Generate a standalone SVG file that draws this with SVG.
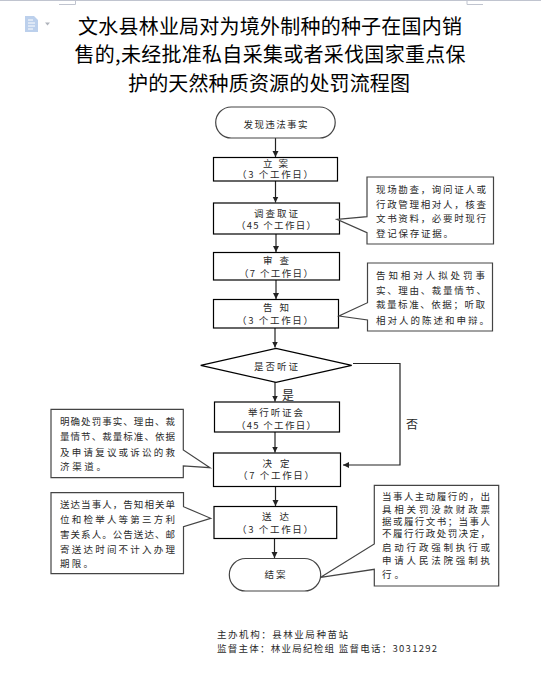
<svg xmlns="http://www.w3.org/2000/svg" width="541" height="673" viewBox="0 0 541 673">
<defs>
<style>
text{font-family:"Noto Sans CJK SC","Liberation Sans",sans-serif;fill:#2a2a2a}
.t{font-size:20px;fill:#000;text-anchor:middle}
.l{font-size:9.500px;text-anchor:middle}
.c{font-size:9.500px}
.s{fill:#fff;stroke:#000;stroke-width:1.2}
.g{fill:#fff;stroke:#444;stroke-width:1.2}
.a{fill:none;stroke:#222;stroke-width:1.2}
</style>
<marker id="ah" markerUnits="userSpaceOnUse" markerWidth="8" markerHeight="8" refX="6" refY="3" orient="auto"><path d="M0 0L6 3L0 6Z" fill="#222"/></marker>
</defs>
<rect width="541" height="673" fill="#fff"/>
<g id="page-marks" fill="none" stroke="#c0c4cf">
<path d="M0 .5H541" stroke-width="1.200"/>
<path d="M59 4.500H75.500V0M483 4.500H467V0"/>
<path d="M25 16H34L38 20V32H25Z" fill="#bcd0ec" stroke="none"/>
<path d="M28 20H33M28 23H35M28 26H35M28 29H33" stroke="#fff"/>
<path d="M45 22.500H50L47.500 25.500Z" fill="#b0b4bc" stroke="none"/>
</g>
<g id="title">
<text class="t" x="270" y="34" textLength="384">文水县林业局对为境外制种的种子在国内销</text>
<text class="t" x="270" y="62" textLength="391">售的,未经批准私自采集或者采伐国家重点保</text>
<text class="t" x="269" y="91" textLength="282">护的天然种质资源的处罚流程图</text>
</g>
<g id="connectors">
<path class="a" marker-end="url(#ah)" d="M275.500 138V157"/>
<path class="a" marker-end="url(#ah)" d="M275.500 181V202.500"/>
<path class="a" marker-end="url(#ah)" d="M276 234V252"/>
<path class="a" marker-end="url(#ah)" d="M276 280V299"/>
<path class="a" marker-end="url(#ah)" d="M275 328V347.500"/>
<path class="a" marker-end="url(#ah)" d="M275 382V401.500"/>
<path class="a" marker-end="url(#ah)" d="M275 432V452.500"/>
<path class="a" marker-end="url(#ah)" d="M275.500 486.500V506"/>
<path class="a" marker-end="url(#ah)" d="M274.500 538V558"/>
<path class="a" marker-end="url(#ah)" d="M353 363.500H400V465H343"/>
</g>
<g id="start"><rect class="g" x="215.700" y="107" width="119.500" height="31" rx="15.500"/><text class="l" x="275.500" y="127.500" textLength="64">发现违法事实</text></g>
<g id="n1"><rect class="s" x="213.500" y="157.500" width="124" height="23.500"/><text class="l" x="275.500" y="166.500" textLength="25">立 案</text><text class="l" x="275" y="178" textLength="76">&#xFF08;3 个工作日&#xFF09;</text></g>
<g id="n2"><rect class="s" x="213.500" y="203" width="126" height="31"/><text class="l" x="276" y="216.500" textLength="44">调查取证</text><text class="l" x="276" y="228.500" textLength="80">&#xFF08;45 个工作日&#xFF09;</text></g>
<g id="n3"><rect class="s" x="213.500" y="252.500" width="126" height="27.500"/><text class="l" x="276" y="264" textLength="26">审 查</text><text class="l" x="276" y="276.500" textLength="74">&#xFF08;7 个工作日&#xFF09;</text></g>
<g id="n4"><rect class="s" x="213.500" y="299.500" width="125" height="28.500"/><text class="l" x="276" y="311" textLength="26">告 知</text><text class="l" x="275" y="323.500" textLength="76">&#xFF08;3 个工作日&#xFF09;</text></g>
<g id="n5"><path class="s" d="M200.700 365.300L276 348.300L351.700 365.300L276 382.300Z"/><text class="l" x="276" y="369.500" textLength="44">是否听证</text></g>
<g id="n6"><rect class="s" x="214.500" y="402" width="125" height="30"/><text class="l" x="275.500" y="416" textLength="55">举行听证会</text><text class="l" x="276" y="428.500" textLength="80">&#xFF08;45 个工作日&#xFF09;</text></g>
<g id="n7"><rect class="s" x="213.500" y="453" width="127" height="33.500"/><text class="l" x="276" y="466.500" textLength="27">决 定</text><text class="l" x="276" y="478.500" textLength="76">&#xFF08;7 个工作日&#xFF09;</text></g>
<g id="n8"><rect class="s" x="214" y="506.500" width="122.700" height="32"/><text class="l" x="275.500" y="520" textLength="27">送 达</text><text class="l" x="275" y="532.500" textLength="76">&#xFF08;3 个工作日&#xFF09;</text></g>
<g id="end"><rect class="g" x="229.300" y="558.500" width="91.400" height="32.500" rx="16.250"/><text class="l" x="275" y="577.500" textLength="21">结案</text></g>
<g id="yes"><text x="288" y="400" style="font-size:12px;text-anchor:middle">是</text></g>
<g id="no"><text x="412" y="428.500" style="font-size:12px;text-anchor:middle">否</text></g>
<g id="callout1"><path class="g" d="M367 177H493.500V244H367V232.700L337 219.300L367 216.700Z"/>
<text class="c" x="376" y="193" textLength="110">现场勘查&#xFF0C;询问证人或</text><text class="c" x="376" y="207.500" textLength="110">行政管理相对人&#xFF0C;核查</text><text class="c" x="376" y="222" textLength="110">文书资料&#xFF0C;必要时现行</text><text class="c" x="376" y="237" textLength="77">登记保存证据。</text></g>
<g id="callout2"><path class="g" d="M367.500 263H492.500V331H367.500V320L339 316L367.500 302.700Z"/>
<text class="c" x="376" y="279" textLength="109">告知相对人拟处罚事</text><text class="c" x="376" y="293.500" textLength="110">实、理由、裁量情节、</text><text class="c" x="376" y="308" textLength="109">裁量标准、依据&#xFF1B;听取</text><text class="c" x="376" y="323.500" textLength="113">相对人的陈述和申辩。</text></g>
<g id="callout3"><path class="g" d="M51 409.300H183.300V450L210 467.700L183.300 466V477.700H51Z"/>
<text class="c" x="60" y="425" textLength="115">明确处罚事实、理由、裁</text><text class="c" x="60" y="439.500" textLength="115">量情节、裁量标准、依据</text><text class="c" x="60" y="455.500" textLength="115">及申请复议或诉讼的救</text><text class="c" x="60" y="470" textLength="46">济渠道。</text></g>
<g id="callout4"><path class="g" d="M51 492.700H183.500V506.700L210.700 518.300L183.500 526.700V573.700H51Z"/>
<text class="c" x="60" y="507.500" textLength="115">送达当事人&#xFF0C;告知相关单</text><text class="c" x="60" y="522.500" textLength="115">位和检举人等第三方利</text><text class="c" x="60" y="537.500" textLength="115">害关系人。公告送达、邮</text><text class="c" x="60" y="552.500" textLength="115">寄送达时间不计入办理</text><text class="c" x="60" y="566.500" textLength="33">期限。</text></g>
<g id="callout5"><path class="g" d="M374.300 485.300H498.700V586H374.300V569.300L320.700 577.300L374.300 544Z"/>
<text class="c" x="382" y="499.500" textLength="108">当事人主动履行的&#xFF0C;出</text><text class="c" x="382" y="513" textLength="108">具相关罚没款财政票</text><text class="c" x="382" y="525" textLength="108">据或履行文书&#xFF1B;当事人</text><text class="c" x="382" y="537" textLength="108">不履行行政处罚决定&#xFF0C;</text><text class="c" x="382" y="551" textLength="108">启动行政强制执行或</text><text class="c" x="382" y="564" textLength="108">申请人民法院强制执</text><text class="c" x="382" y="577.500" textLength="22">行。</text></g>
<g id="footer">
<text class="c" x="217" y="637.500" textLength="131">主办机构&#xFF1A;县林业局种苗站</text>
<text class="c" x="217" y="652" textLength="220">监督主体&#xFF1A;林业局纪检组  监督电话&#xFF1A;3031292</text>
</g>
</svg>
